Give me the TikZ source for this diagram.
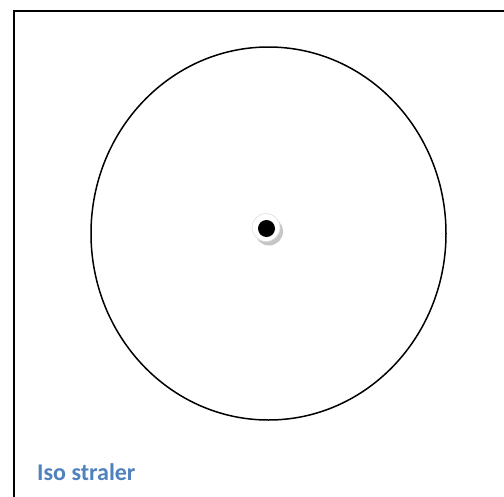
\documentclass[tikz,border=0pt]{standalone}
\usepackage{fontspec}
\setmainfont{Carlito}
\usetikzlibrary{shapes.geometric}
\definecolor{labelblue}{HTML}{4F81BD}
\begin{document}
\begin{tikzpicture}[x=1pt,y=-1pt,
  frame/.style={draw=black,line width=2pt},
  outline/.style={draw=black,line width=1.5pt},
  lbl/.style={text=labelblue,font=\fontsize{24}{28}\selectfont\bfseries,anchor=base west,inner sep=0pt}]
\useasboundingbox (0,0) rectangle (504,496);
\draw[frame] (14,520) -- (14,11) -- (520,11);
\node[outline,ellipse,minimum width=355pt,minimum height=373pt,inner sep=0pt] (ring) at (268.5,233.5) {};
\fill[gray!45] (269,231.5) circle (14pt);
\fill[white] (266,227.5) circle (14pt);
\draw[gray!25,line width=0.6pt] (266,227.5) circle (14pt);
\fill[black] (266.5,228.5) circle (8.5pt);
\coordinate (c) at (266.5,228.5);
\node[lbl] (label) at (37,480) {Iso straler};
\end{tikzpicture}
\end{document}
